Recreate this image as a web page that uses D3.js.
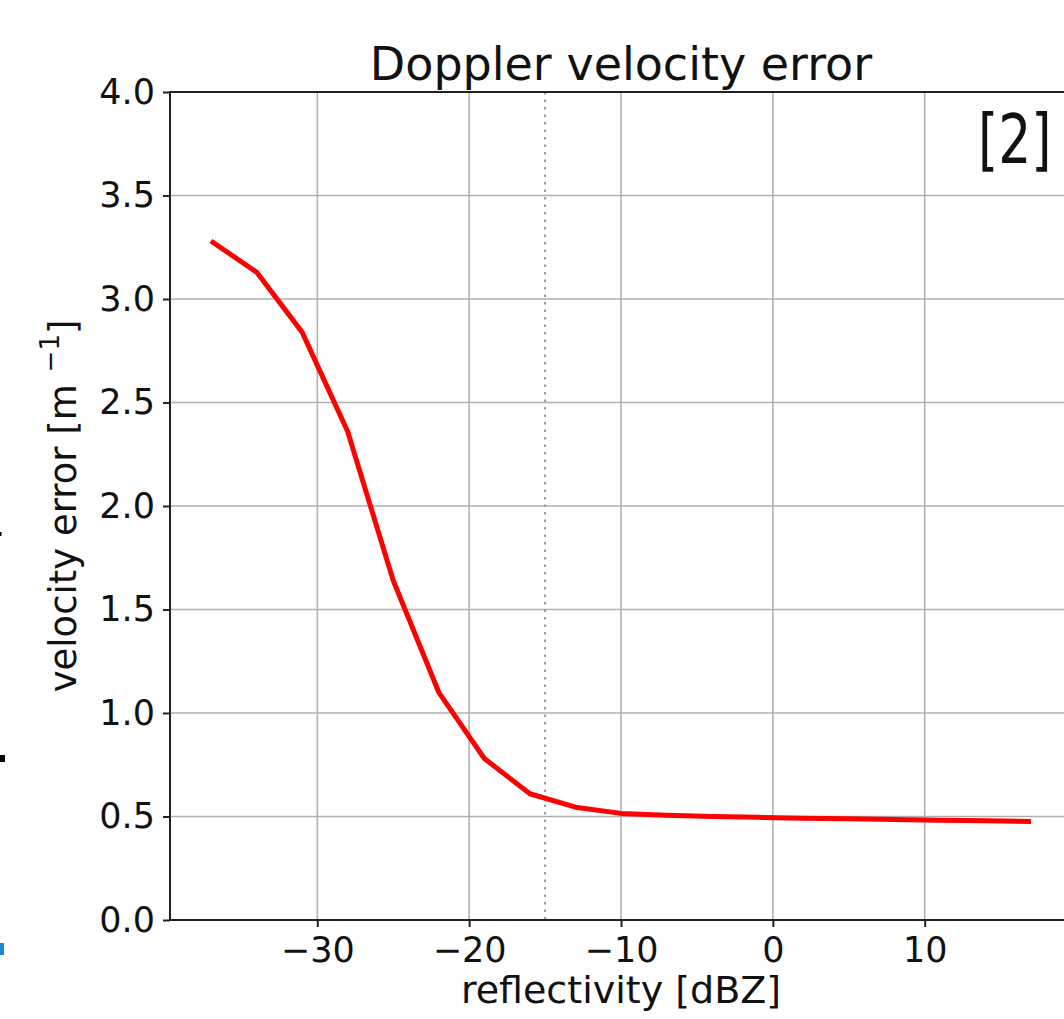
<!DOCTYPE html>
<html>
<head>
<meta charset="utf-8">
<script src="https://cdn.jsdelivr.net/npm/d3@7"></script>
<style>
    body { margin: 0; background: #fff; overflow: hidden; }
    svg { display: block; font-family: "DejaVu Sans", sans-serif; }
</style>
</head>
<body>
<svg width="1064" height="1019"></svg>
<script>
// reflectivity bins (dBZ) and the doppler velocity error
const reflectivity = [-37, -34, -31, -28, -25, -22, -19, -16, -13, -10, -7, -4, -1, 2, 5, 8, 11, 14, 17];
const velocityError = [3.28, 3.13, 2.84, 2.36, 1.64, 1.10, 0.78, 0.61, 0.545, 0.515, 0.506, 0.500, 0.496, 0.492, 0.489, 0.486, 0.482, 0.479, 0.476];
const xTicks = [-30, -20, -10, 0, 10];
const yTicks = [0, 0.5, 1.0, 1.5, 2.0, 2.5, 3.0, 3.5, 4.0];
const thresholdDbz = -15;
const panelLabel = "[2]";

const data = reflectivity.map((r, i) => ({ r: r, v: velocityError[i] }));

const svg = d3.select("svg");
const margin = { top: 92, right: -8, bottom: 99, left: 170 };
const width = +svg.attr("width") - margin.left - margin.right;
const height = +svg.attr("height") - margin.top - margin.bottom;
const g = svg.append("g").attr("transform", `translate(${margin.left},${margin.top})`);

// matplotlib style 5% padding on x
const span = d3.max(reflectivity) - d3.min(reflectivity);
const x = d3.scaleLinear()
    .domain([d3.min(reflectivity) - span * 0.05, d3.max(reflectivity) + span * 0.05])
    .range([0, width]);
const y = d3.scaleLinear().domain([0, 4]).range([height, 0]);

// grid
g.append("g")
    .selectAll("line.vg")
    .data(xTicks)
    .enter().append("line")
    .attr("x1", d => x(d)).attr("x2", d => x(d))
    .attr("y1", 0).attr("y2", height)
    .attr("stroke", "#b0b0b0").attr("stroke-width", 1.6);
g.append("g")
    .selectAll("line.hg")
    .data(yTicks)
    .enter().append("line")
    .attr("x1", 0).attr("x2", width)
    .attr("y1", d => y(d)).attr("y2", d => y(d))
    .attr("stroke", "#b0b0b0").attr("stroke-width", 1.6);

// threshold line
g.append("line")
    .attr("x1", x(thresholdDbz)).attr("x2", x(thresholdDbz))
    .attr("y1", 0).attr("y2", height)
    .attr("stroke", "#999").attr("stroke-width", 2)
    .attr("stroke-dasharray", "2.5,5");

// curve
g.append("path")
    .datum(data)
    .attr("fill", "none")
    .attr("stroke", "red")
    .attr("stroke-width", 5)
    .attr("stroke-linejoin", "round")
    .attr("d", d3.line().x(d => x(d.r)).y(d => y(d.v)));

// axes
const xAxis = g.append("g")
    .attr("transform", `translate(0,${height})`)
    .call(d3.axisBottom(x).tickValues(xTicks).tickSize(7).tickPadding(10)
        .tickFormat(d => d < 0 ? "\u2212" + Math.abs(d) : d));
const yAxis = g.append("g")
    .call(d3.axisLeft(y).tickValues(yTicks).tickSize(7).tickPadding(8).tickFormat(d3.format(".1f")));

[xAxis, yAxis].forEach(a => {
    a.select(".domain").remove();
    a.selectAll(".tick line").attr("stroke", "#222").attr("stroke-width", 2);
    a.selectAll(".tick text")
        .attr("fill", "#111")
        .style("font-size", "35px")
        .style("font-family", "DejaVu Sans");
});

// frame
g.append("rect")
    .attr("width", width).attr("height", height)
    .attr("fill", "none").attr("stroke", "#222").attr("stroke-width", 2);

// title
g.append("text")
    .attr("x", width / 2).attr("y", -12)
    .attr("text-anchor", "middle")
    .style("font-size", "46px")
    .attr("fill", "#111")
    .text("Doppler velocity error");

// x label
g.append("text")
    .attr("x", width / 2).attr("y", height + 83)
    .attr("text-anchor", "middle")
    .style("font-size", "38px")
    .attr("fill", "#111")
    .text("reflectivity [dBZ]");

// y label with superscript
const yl = g.append("text")
    .attr("transform", `translate(${76 - margin.left},${height / 2}) rotate(-90)`)
    .attr("text-anchor", "middle")
    .style("font-size", "37px")
    .attr("fill", "#111");
yl.append("tspan").text("velocity error [m ");
yl.append("tspan").attr("dy", -17).style("font-size", "26px").text("\u22121");
yl.append("tspan").attr("dy", 17).text("]");

// panel label (tall, narrow lettering)
svg.append("text")
    .attr("transform", "translate(978,163) scale(1,1.3)")
    .style("font-size", "52px")
    .attr("fill", "#111")
    .text(panelLabel);

// bits of neighbouring panels peeking in at the left edge
svg.append("rect").attr("x", 0).attr("y", 532).attr("width", 1.5).attr("height", 4).attr("fill", "#000");
svg.append("rect").attr("x", 0).attr("y", 755).attr("width", 5).attr("height", 7).attr("fill", "#000");
svg.append("rect").attr("x", 0).attr("y", 943).attr("width", 4).attr("height", 12).attr("fill", "#1a8ad0");
</script>
</body>
</html>
